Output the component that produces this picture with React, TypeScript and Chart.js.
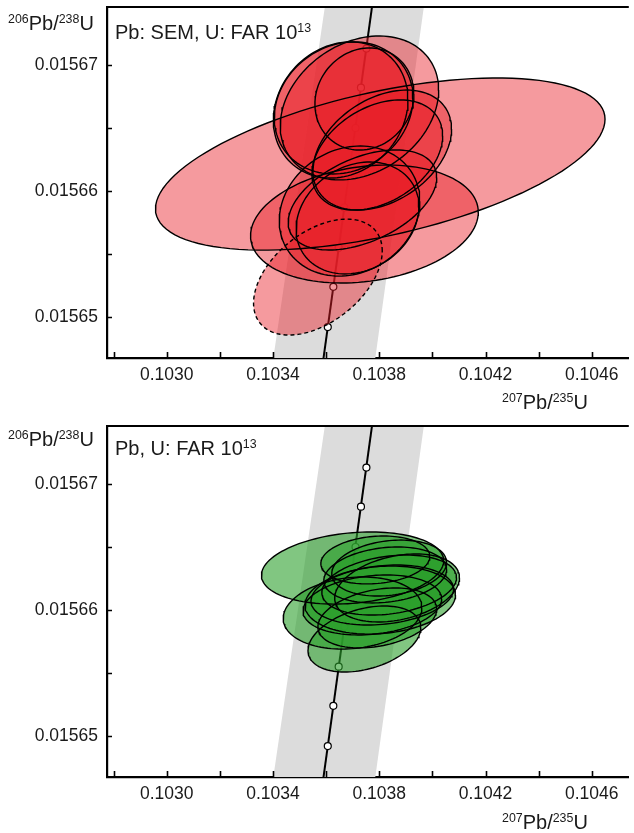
import React, { useEffect, useRef } from 'react';
import { Chart, registerables } from 'chart.js';

Chart.register(...registerables);

// ---- axes ----
const X_MIN = 0.1027753;
const X_MAX = 0.1047393;
const Y_MIN = 0.01564675;
const Y_MAX = 0.0156746;
const xTickValues = [0.1028, 0.103, 0.1032, 0.1034, 0.1036, 0.1038, 0.104, 0.1042, 0.1044, 0.1046];
const xTickLabelValues = [0.103, 0.1034, 0.1038, 0.1042, 0.1046];
const xTickLabels = ['0.1030', '0.1034', '0.1038', '0.1042', '0.1046'];
const yTickValues = [0.01565, 0.015655, 0.01566, 0.015665, 0.01567];
const yTickLabelValues = [0.01565, 0.01566, 0.01567];
const yTickLabels = ['0.01565', '0.01566', '0.01567'];

// ---- concordia ----
const concLineX = [0.1035788, 0.1037884];
const concLineY = [0.015645, 0.015677];
const concMarkerX = [0.1036063, 0.1036272, 0.1036473, 0.1036686, 0.1036894, 0.1037107, 0.1037312, 0.1037517];
const concMarkerY = [0.0156492, 0.0156524, 0.0156555, 0.0156587, 0.0156618, 0.015665, 0.0156682, 0.0156713];
const bandY = [0.01564675, 0.0156746];
const bandLeftX = [0.1034014, 0.1035952];
const bandRightX = [0.1037852, 0.1039678];

// ---- top panel: Pb SEM, U FAR (ellipse centre, half-widths, correlation) ----
const semCx = [0.1035691, 0.1038038, 0.1037256, 0.1036548, 0.103666, 0.1037442, 0.1038113, 0.1037927, 0.1037442, 0.1036883, 0.1037181, 0.1037368];
const semCy = [0.01565317, 0.01566214, 0.01566659, 0.01566643, 0.01566659, 0.0156673, 0.01566325, 0.01566286, 0.01565738, 0.01565841, 0.01565786, 0.01565929];
const semSx = [0.0002422, 0.000846, 0.0002981, 0.0002534, 0.0002609, 0.0001863, 0.0002609, 0.000246, 0.0004286, 0.0002646, 0.0002311, 0.0002795];
const semSy = [0.0000046, 0.00000683, 0.00000571, 0.0000054, 0.00000524, 0.00000405, 0.00000476, 0.00000437, 0.00000468, 0.00000516, 0.00000444, 0.00000397];
const semRho = [0.45, 0.52, 0.25, 0.15, 0.15, 0.1, 0.35, 0.35, 0.2, 0.15, 0.2, 0.45];
const semDashed = [true, false, false, false, false, false, false, false, false, false, false, false];

// ---- bottom panel: Pb, U FAR ----
const farCx = [0.1036995, 0.1037852, 0.1038672, 0.1038374, 0.1036995, 0.1037442, 0.1038113, 0.1038374, 0.103774, 0.1038225, 0.1037927, 0.1038038];
const farCy = [0.01566333, 0.01566397, 0.01566175, 0.01566333, 0.01565976, 0.0156577, 0.01566119, 0.01566198, 0.0156604, 0.01566278, 0.01565937, 0.01566079];
const farSx = [0.0003429, 0.000205, 0.0002348, 0.0002161, 0.0002609, 0.0002124, 0.0002683, 0.0002534, 0.0002609, 0.0002311, 0.0002236, 0.0002832];
const farSy = [0.00000286, 0.0000019, 0.0000027, 0.00000222, 0.00000286, 0.00000262, 0.00000238, 0.00000238, 0.00000238, 0.00000222, 0.00000238, 0.0000027];
const farRho = [0.2, 0.15, 0.3, 0.2, 0.15, 0.35, 0.2, 0.25, 0.2, 0.2, 0.3, 0.15];
const farDashed = farCx.map(() => false);

const FONT = "'Liberation Sans', Arial, Helvetica, sans-serif";

function ellipsePath(cx: number, cy: number, sx: number, sy: number, rho: number) {
  const pts: { x: number; y: number }[] = [];
  const n = 120;
  const k = Math.sqrt(1 - rho * rho);
  for (let i = 0; i <= n; i++) {
    const t = (2 * Math.PI * i) / n;
    pts.push({ x: cx + sx * Math.cos(t), y: cy + sy * (rho * Math.cos(t) + k * Math.sin(t)) });
  }
  return pts;
}

const framePlugin = {
  id: 'frame',
  afterDraw(chart: any) {
    const { ctx, chartArea: a, scales } = chart;
    const x = scales.x;
    const y = scales.y;
    ctx.save();
    ctx.strokeStyle = '#000';
    ctx.lineWidth = 1.6;
    ctx.beginPath();
    for (const v of xTickValues) {
      const px = Math.round(x.getPixelForValue(v)) + 0.5;
      ctx.moveTo(px, a.bottom);
      ctx.lineTo(px, a.bottom - 6);
    }
    for (const v of yTickValues) {
      const py = Math.round(y.getPixelForValue(v)) + 0.5;
      ctx.moveTo(a.left, py);
      ctx.lineTo(a.left + 5, py);
    }
    ctx.stroke();
    ctx.lineWidth = 2;
    ctx.beginPath();
    ctx.moveTo(a.left - 1, a.top);
    ctx.lineTo(a.right, a.top);
    ctx.stroke();
    ctx.restore();
  },
};

type PanelProps = {
  cx: number[]; cy: number[]; sx: number[]; sy: number[]; rho: number[]; dashed: boolean[];
  fill: string; top: number; height: number; padTop: number; xHeight: number;
};

function Panel(p: PanelProps) {
  const ref = useRef<HTMLCanvasElement>(null);
  useEffect(() => {
    const datasets: any[] = [];
    // outlines (drawn on top of all fills)
    for (let i = 0; i < p.cx.length; i++) {
      datasets.push({
        data: ellipsePath(p.cx[i], p.cy[i], p.sx[i], p.sy[i], p.rho[i]),
        showLine: true,
        pointRadius: 0,
        borderColor: '#000',
        borderWidth: 1.4,
        borderDash: p.dashed[i] ? [4, 3] : [],
        fill: false,
        tension: 0,
        order: 0,
      });
    }
    // fills
    for (let i = 0; i < p.cx.length; i++) {
      datasets.push({
        data: ellipsePath(p.cx[i], p.cy[i], p.sx[i], p.sy[i], p.rho[i]),
        showLine: true,
        pointRadius: 0,
        borderColor: 'rgba(0,0,0,0)',
        borderWidth: 0,
        backgroundColor: p.fill,
        fill: 'shape',
        tension: 0,
        order: 1,
      });
    }
    datasets.push({
      data: concMarkerX.map((v, i) => ({ x: v, y: concMarkerY[i] })),
      showLine: false,
      pointRadius: 3.5,
      pointBackgroundColor: '#fff',
      pointBorderColor: '#000',
      pointBorderWidth: 1.2,
      order: 2,
    });
    datasets.push({
      data: concLineX.map((v, i) => ({ x: v, y: concLineY[i] })),
      showLine: true,
      pointRadius: 0,
      borderColor: '#000',
      borderWidth: 2,
      fill: false,
      order: 3,
    });
    datasets.push({
      data: [
        { x: bandLeftX[0], y: bandY[0] },
        { x: bandRightX[0], y: bandY[0] },
        { x: bandRightX[1], y: bandY[1] },
        { x: bandLeftX[1], y: bandY[1] },
        { x: bandLeftX[0], y: bandY[0] },
      ],
      showLine: true,
      pointRadius: 0,
      borderColor: 'rgba(0,0,0,0)',
      borderWidth: 0,
      backgroundColor: '#dcdcdc',
      fill: 'shape',
      order: 4,
    });

    const tickFont = { family: FONT, size: 17.5 };
    const chart = new Chart(ref.current as HTMLCanvasElement, {
      type: 'scatter',
      data: { datasets },
      plugins: [framePlugin],
      options: {
        animation: false,
        responsive: false,
        events: [],
        layout: { padding: { top: p.padTop, left: 0, right: 0, bottom: 0 } },
        plugins: { legend: { display: false }, tooltip: { enabled: false } },
        scales: {
          x: {
            type: 'linear',
            min: X_MIN,
            max: X_MAX,
            afterBuildTicks: (s: any) => { s.ticks = xTickValues.map((v) => ({ value: v })); },
            afterFit: (s: any) => { s.height = p.xHeight; },
            grid: { display: false, drawTicks: false },
            border: { display: true, color: '#000', width: 2.2 },
            ticks: {
              font: tickFont,
              color: '#1a1a1a',
              padding: 7,
              maxRotation: 0,
              autoSkip: false,
              callback: (v: any) => {
                const i = xTickLabelValues.findIndex((m) => Math.abs(m - v) < 1e-9);
                return i >= 0 ? xTickLabels[i] : '';
              },
            },
          },
          y: {
            type: 'linear',
            min: Y_MIN,
            max: Y_MAX,
            afterBuildTicks: (s: any) => { s.ticks = yTickValues.map((v) => ({ value: v })); },
            afterFit: (s: any) => { s.width = 107; },
            grid: { display: false, drawTicks: false },
            border: { display: true, color: '#000', width: 2.2 },
            ticks: {
              font: tickFont,
              color: '#1a1a1a',
              padding: 9,
              autoSkip: false,
              callback: (v: any) => {
                const i = yTickLabelValues.findIndex((m) => Math.abs(m - v) < 1e-10);
                return i >= 0 ? yTickLabels[i] : '';
              },
            },
          },
        },
      } as any,
    });
    return () => chart.destroy();
  }, []);
  return (
    <canvas
      ref={ref}
      width={634}
      height={p.height}
      style={{ position: 'absolute', left: 0, top: p.top, width: 634, height: p.height }}
    />
  );
}

const supStyle: React.CSSProperties = { fontSize: '0.62em', position: 'relative', top: '-0.55em' };

function Ratio({ a, b }: { a: string; b: string }) {
  return (
    <span>
      <span style={supStyle}>{a}</span>Pb/<span style={supStyle}>{b}</span>U
    </span>
  );
}

function Label({ left, top, children }: { left: number; top: number; children: React.ReactNode }) {
  return (
    <div
      style={{
        position: 'absolute', left, top, fontFamily: FONT, fontSize: 20, lineHeight: '20px',
        color: '#1a1a1a', whiteSpace: 'nowrap',
      }}
    >
      {children}
    </div>
  );
}

export default function App() {
  return (
    <div style={{ position: 'relative', width: 634, height: 833, overflow: 'hidden', background: '#fff' }}>
      <style>{'body{margin:0;}'}</style>
      <Panel cx={semCx} cy={semCy} sx={semSx} sy={semSy} rho={semRho} dashed={semDashed}
        fill="rgba(232,32,40,0.45)" top={-20} height={435} padTop={27} xHeight={57} />
      <Panel cx={farCx} cy={farCy} sx={farSx} sy={farSy} rho={farRho} dashed={farDashed}
        fill="rgba(45,160,45,0.6)" top={400} height={433} padTop={26} xHeight={56} />
      <Label left={8} top={13}><Ratio a="206" b="238" /></Label>
      <Label left={115} top={22}>Pb: SEM, U: FAR 10<span style={supStyle}>13</span></Label>
      <Label left={502} top={392}><Ratio a="207" b="235" /></Label>
      <Label left={8} top={429}><Ratio a="206" b="238" /></Label>
      <Label left={115} top={438}>Pb, U: FAR 10<span style={supStyle}>13</span></Label>
      <Label left={502} top={812}><Ratio a="207" b="235" /></Label>
    </div>
  );
}
